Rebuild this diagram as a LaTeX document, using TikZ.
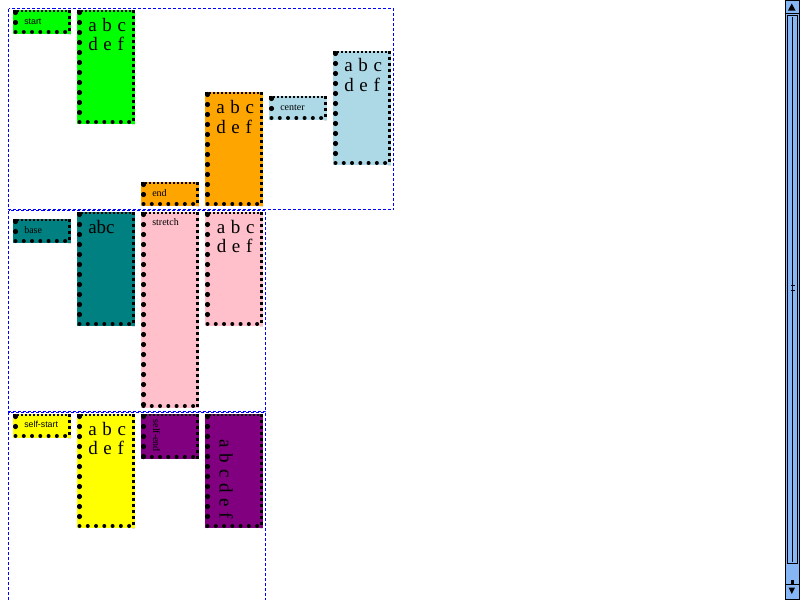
\documentclass[tikz,border=0pt]{standalone}
\usepackage{fontspec}
\setmainfont{Liberation Serif}
\newfontfamily\bigserif[WordSpace=1.2]{Liberation Serif}
\newfontfamily\smsans{Liberation Sans}
\definecolor{cssblue}{RGB}{0,0,255}
\definecolor{cgreen}{RGB}{0,255,0}
\definecolor{corange}{RGB}{255,165,0}
\definecolor{clblue}{RGB}{173,216,230}
\definecolor{cteal}{RGB}{0,128,128}
\definecolor{cpink}{RGB}{255,192,203}
\definecolor{cyellow}{RGB}{255,255,0}
\definecolor{cpurple}{RGB}{128,0,128}
\definecolor{sbblue}{RGB}{135,182,245}
\newcommand\cbox[6]{%
  \fill[#6] (#2,#3) rectangle (#4,#5);
  \coordinate (#1) at (#2,#3);
  \draw[topb] (#2,#3+1) -- (#4,#3+1);
  \draw[rightb] (#4-1.5,#3) -- (#4-1.5,#5);
  \draw[botb] (#2+2.5,#5-2) -- (#4-3,#5-2);
  \draw[leftb] (#2+2.5,#3+2.5) -- (#2+2.5,#5-2);
}
\begin{document}
\begin{tikzpicture}[x=0.75pt,y=-0.75pt,
  gridbox/.style={draw=cssblue, line width=0.75pt, dash pattern=on 2.25pt off 1.5pt},
  topb/.style={line width=1.5pt, dash pattern=on 1.5pt off 1.5pt},
  rightb/.style={line width=2.25pt, dash pattern=on 2.25pt off 2.25pt},
  botb/.style={line width=3pt, line cap=round, dash pattern=on 0pt off 6.2pt},
  leftb/.style={line width=3.9pt, line cap=round, dash pattern=on 0pt off 7.5pt},
  big/.style={font=\bigserif\fontsize{14.25}{16}\selectfont, inner sep=0pt, anchor=base west},
  sml/.style={font=\fontsize{7.5}{9}\selectfont, inner sep=0pt, anchor=base west},
  smsans/.style={font=\smsans\fontsize{6.6}{8}\selectfont, inner sep=0pt, anchor=base west},
  sbline/.style={line width=0.75pt, draw=black}
]
\useasboundingbox (0,0) rectangle (800,600);
\fill[white] (0,0) rectangle (800,600);

% grid containers
\draw[gridbox] (8.5,8.5) rectangle (393.5,209.5);
\draw[gridbox] (8.5,210.5) rectangle (265.5,411.5);
\draw[gridbox] (8.5,640) -- (8.5,412.5) -- (265.5,412.5) -- (265.5,640);

% container 1
\cbox{bstart}{13}{10}{71}{34}{cgreen}
\node[smsans] (tstart) at (24,24) {start};
\cbox{bgreen}{77}{10}{135}{124}{cgreen}
\node[big] (tgreen1) at (88,31) {a b c};
\node[big] (tgreen2) at (88,50.7) {d e f};
\cbox{bend}{141}{182}{199}{206}{corange}
\node[sml] (tend) at (152,196) {end};
\cbox{borange}{205}{92}{263}{206}{corange}
\node[big] (torange1) at (216,113.3) {a b c};
\node[big] (torange2) at (216,133) {d e f};
\cbox{bcenter}{269}{96}{327}{120}{clblue}
\node[sml] (tcenter) at (280,110) {center};
\cbox{blblue}{333}{51}{391}{165}{clblue}
\node[big] (tlblue1) at (344,71.7) {a b c};
\node[big] (tlblue2) at (344,91.4) {d e f};

% container 2
\cbox{bbase}{13}{219}{71}{243}{cteal}
\node[sml] (tbase) at (24,233) {base};
\cbox{bteal}{77}{212}{135}{326}{cteal}
\node[big] (tteal) at (88,233.3) {abc};
\cbox{bstretch}{141}{212}{199}{408}{cpink}
\node[sml] (tstretch) at (152,225.7) {stretch};
\cbox{bpink}{205}{212}{263}{326}{cpink}
\node[big] (tpink1) at (216.5,233) {a b c};
\node[big] (tpink2) at (216.5,252.7) {d e f};

% container 3
\cbox{bselfstart}{13}{414}{71}{438}{cyellow}
\node[smsans] (tselfstart) at (24,427.3) {self-start};
\cbox{byellow}{77}{414}{135}{528}{cyellow}
\node[big] (tyellow1) at (88,435) {a b c};
\node[big] (tyellow2) at (88,454.7) {d e f};
\cbox{bselfend}{141}{414}{199}{459}{cpurple}
\node[sml, rotate=-90] (tselfend) at (153,419.5) {self-end};
\cbox{bpurple}{205}{414}{263}{528}{cpurple}
\node[big, rotate=-90] (tpurple) at (219.5,439.5) {a b c d e f};

% scrollbar
\fill[sbblue] (785,0) rectangle (800,600);
\draw[sbline] (785.5,0) -- (785.5,600);
\draw[sbline] (799.5,0) -- (799.5,600);
\draw[sbline] (785,0.5) -- (800,0.5);
\draw[sbline] (785,13.5) -- (800,13.5);
\fill[black] (788,10.5) -- (795.5,10.5) -- (791.75,3.5) -- cycle;
\draw[sbline] (787.5,15.5) rectangle (797.5,563.5);
\draw[sbline] (792.5,17) -- (792.5,561.5);
\draw[sbline] (790.5,285.5) -- (794.5,285.5);
\draw[sbline] (790.5,290.5) -- (794.5,290.5);
\fill[black] (790.5,580) rectangle (793.5,584);
\draw[sbline] (785,584.5) -- (800,584.5);
\draw[sbline] (785,599.5) -- (800,599.5);
\fill[black] (788.5,587.5) -- (795,587.5) -- (791.75,594) -- cycle;
\end{tikzpicture}
\end{document}
